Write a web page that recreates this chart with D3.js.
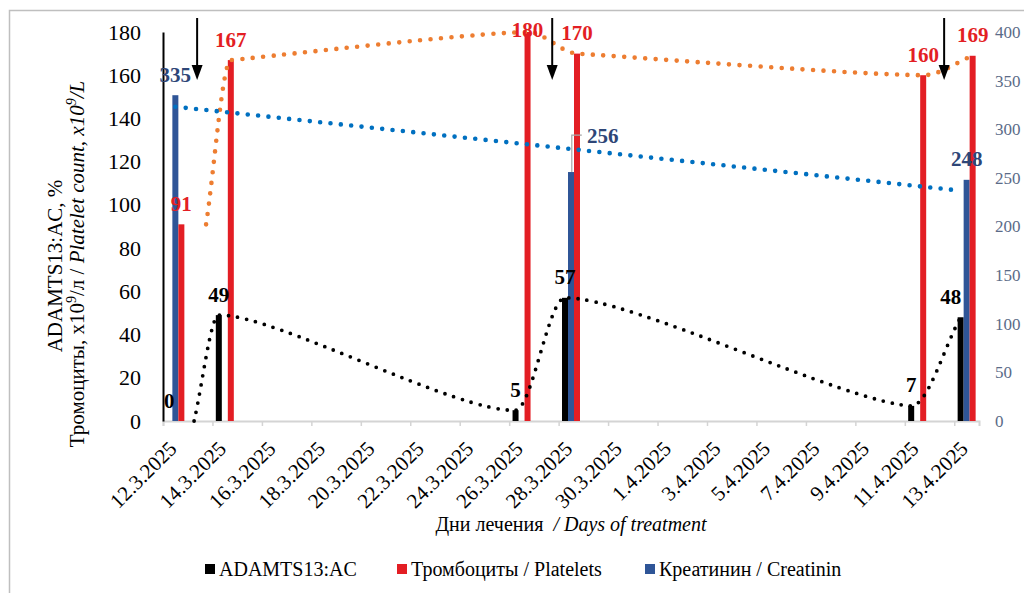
<!DOCTYPE html>
<html><head><meta charset="utf-8">
<script src="https://cdn.jsdelivr.net/npm/d3@7"></script>
<style>
body{margin:0;background:#fff}
svg{display:block;font-family:"Liberation Serif","Times New Roman",serif}
</style>
</head><body>
<svg id="chart" width="1024" height="593"></svg>
<script>
// ---------- data ----------
const tickLabels = ["12.3.2025","14.3.2025","16.3.2025","18.3.2025","20.3.2025","22.3.2025","24.3.2025","26.3.2025","28.3.2025","30.3.2025","1.4.2025","3.4.2025","5.4.2025","7.4.2025","9.4.2025","11.4.2025","13.4.2025"];
const axisStart = "12.3.2025";
const axisEnd = "14.4.2025";
const leftTicks = [0,20,40,60,80,100,120,140,160,180];
const rightTicks = [0,50,100,150,200,250,300,350,400];

const adamtsDates = ["12.3.2025","14.3.2025","26.3.2025","28.3.2025","11.4.2025","13.4.2025"];
const adamtsValues = [0,49,5,57,7,48];
const plateletDates = ["12.3.2025","14.3.2025","26.3.2025","28.3.2025","11.4.2025","13.4.2025"];
const plateletValues = [91,167,180,170,160,169];
const creatinineDates = ["12.3.2025","28.3.2025","13.4.2025"];
const creatinineValues = [335,256,248];

// smoothed dotted lines
const adamtsLineDates = ["13.3.2025","14.3.2025","26.3.2025","28.3.2025","11.4.2025","13.4.2025"];
const adamtsLineValues = [0,49,5,57,7,48];
const plateletLineDates = ["13.3.2025","14.3.2025","26.3.2025","28.3.2025","11.4.2025","13.4.2025"];
const plateletLineValues = [91,167,180,170,160,169];

// arrows (treatment events) — date and fraction of a day
const arrowDates = ["13.3.2025","27.3.2025","12.4.2025"];
const arrowDayShift = [-0.12,0.24,0.09];

const seriesNames = ["ADAMTS13:AC","Тромбоциты / Platelets","Креатинин / Creatinin"];

// ---------- helpers ----------
const DAY = 86400000;
function parse(s){const [d,m,y]=s.split(".").map(Number);return new Date(Date.UTC(y,m-1,d));}
const svg = d3.select("#chart");
const plot = {left:163,right:979,top:32,bottom:421};

const x = d3.scaleUtc().domain([parse(axisStart),parse(axisEnd)]).range([plot.left,plot.right]);
const yL = d3.scaleLinear().domain([0,180]).range([plot.bottom,plot.top]);
const yR = d3.scaleLinear().domain([0,400]).range([plot.bottom,plot.top]);
const center = (s,shift=0)=> x(new Date(parse(s).getTime()+DAY*(0.5+shift)));

const C = {black:"#000000", red:"#E31E24", blue:"#2F5597", orange:"#ED7D31", trendBlue:"#0070C0",
           redLabel:"#E31E24", blueLabel:"#2E4677", rightAxis:"#5B6B88", axisGray:"#D4D4D4"};
const bw = 6;

// Excel-like smoothing: Catmull-Rom tangents with limited control arms
function smoothPath(pts){
  const n = pts.length;
  const seg = i => (pts[i+1][1]-pts[i][1])/(pts[i+1][0]-pts[i][0]);
  const slopes = pts.map((p,i)=>{
    if(i===0) return seg(0);
    if(i===n-1) return seg(n-2);
    const s0 = seg(i-1), s1 = seg(i);
    let m = (pts[i+1][1]-pts[i-1][1])/(pts[i+1][0]-pts[i-1][0]);
    if(s0*s1>0){ const lim = Math.min(Math.abs(s0),Math.abs(s1)); if(Math.abs(m)>lim) m = Math.sign(m)*lim; }
    return m;
  });
  const p = d3.path();
  p.moveTo(pts[0][0],pts[0][1]);
  for(let i=0;i<n-1;i++){
    const a = pts[i], b = pts[i+1], dx = b[0]-a[0];
    const xa = i>0 ? (b[0]-pts[i-1][0])/6 : dx/3;
    const xb = i<n-2 ? (pts[i+2][0]-a[0])/6 : dx/3;
    const ha = Math.min(xa, dx/3), hb = Math.min(xb, dx/3);
    p.bezierCurveTo(a[0]+ha, a[1]+slopes[i]*ha, b[0]-hb, b[1]-slopes[i+1]*hb, b[0], b[1]);
  }
  return p.toString();
}

// frame
svg.append("rect").attr("x",9.5).attr("y",10.5).attr("width",1100).attr("height",700)
  .attr("fill","none").attr("stroke","#BFBFBF").attr("stroke-width",1.5);

// x axis
const xAxis = d3.axisBottom(x).tickValues(tickLabels.map(parse)).tickSize(5).tickFormat("");
const gx = svg.append("g").attr("transform",`translate(0,${plot.bottom})`).call(xAxis);
gx.select(".domain").attr("stroke",C.axisGray).attr("stroke-width",2);
gx.selectAll(".tick line").attr("stroke",C.axisGray).attr("stroke-width",1.5);
svg.append("g").selectAll("text").data(tickLabels).join("text")
  .attr("transform",d=>`translate(${x(parse(d))+15},450) rotate(-45)`)
  .attr("text-anchor","end").attr("font-size",21).attr("fill","#000").text(d=>d);

// left axis
const gl = svg.append("g").attr("transform",`translate(${plot.left},0)`)
  .call(d3.axisLeft(yL).tickValues(leftTicks).tickSize(0).tickPadding(22));
gl.select(".domain").attr("stroke","#000").attr("stroke-width",2);
gl.selectAll(".tick text").attr("font-size",22).attr("fill","#000")
  .attr("font-family",'"Liberation Serif","Times New Roman",serif');

// right axis
const gr = svg.append("g").attr("transform",`translate(${plot.right},0)`)
  .call(d3.axisRight(yR).tickValues(rightTicks).tickSize(0).tickPadding(16));
gr.select(".domain").remove();
gr.selectAll(".tick text").attr("font-size",17).attr("fill",C.rightAxis)
  .attr("font-family",'"Liberation Serif","Times New Roman",serif');

// bars
function bars(dates,values,scale,offset,color){
  svg.append("g").selectAll("rect").data(dates.map((d,i)=>({d,v:values[i]}))).join("rect")
    .attr("x",p=>center(p.d)+offset).attr("width",bw)
    .attr("y",p=>scale(p.v)).attr("height",p=>scale(0)-scale(p.v)).attr("fill",color);
}
bars(adamtsDates,adamtsValues,yL,-9,C.black);
bars(creatinineDates,creatinineValues,yR,-3,C.blue);
bars(plateletDates,plateletValues,yL,3,C.red);

// dotted smoothed lines
svg.append("path")
  .attr("d",smoothPath(plateletLineDates.map((d,i)=>[center(d)+6,yL(plateletLineValues[i])])))
  .attr("fill","none").attr("stroke",C.orange).attr("stroke-width",4.6)
  .attr("stroke-linecap","round").attr("stroke-dasharray","0 10.5");
svg.append("path")
  .attr("d",smoothPath(adamtsLineDates.map((d,i)=>[center(d)-6,yL(adamtsLineValues[i])])))
  .attr("fill","none").attr("stroke",C.black).attr("stroke-width",3.8)
  .attr("stroke-linecap","round").attr("stroke-dasharray","0 9.2");

// creatinine linear trend
const cx = creatinineDates.map(d=>(parse(d)-parse(axisStart))/DAY);
const mx = d3.mean(cx), my = d3.mean(creatinineValues);
const slope = d3.sum(cx.map((v,i)=>(v-mx)*(creatinineValues[i]-my)))/d3.sum(cx.map(v=>(v-mx)*(v-mx)));
const icpt = my - slope*mx;
const firstC = creatinineDates[0], lastC = creatinineDates[creatinineDates.length-1];
svg.append("line")
  .attr("x1",center(firstC)).attr("y1",yR(icpt+slope*cx[0]))
  .attr("x2",center(lastC)-8).attr("y2",yR(icpt+slope*(cx[cx.length-1]-8/24.73)))
  .attr("stroke",C.trendBlue).attr("stroke-width",4.6)
  .attr("stroke-linecap","round").attr("stroke-dasharray","0 10.4");

// data labels
function labels(dates,values,scale,offset,color,special){
  dates.forEach((d,i)=>{
    const v = values[i];
    const cxp = center(d)+offset;
    const top = scale(v);
    const sp = special[i]||{};
    if(sp.leader){
      svg.append("path")
        .attr("d",`M${cxp+0.8},${top}V${top-37}H${cxp+10.8}`)
        .attr("fill","none").attr("stroke","#A6A6A6").attr("stroke-width",1.2);
      svg.append("text").attr("x",cxp+16).attr("y",top-29).attr("text-anchor","start")
        .attr("font-size",21).attr("font-weight","bold").attr("fill",color).text(v);
      return;
    }
    svg.append("text").attr("x",cxp+(sp.dx||0)).attr("y",Math.max(top-13.5,37))
      .attr("text-anchor","middle").attr("font-size",21).attr("font-weight","bold")
      .attr("fill",color).text(v);
  });
}
labels(adamtsDates,adamtsValues,yL,-6,C.black,{5:{dx:-10}});
labels(creatinineDates,creatinineValues,yR,0,C.blueLabel,{1:{leader:true}});
labels(plateletDates,plateletValues,yL,6,C.redLabel,{});

// arrows
arrowDates.forEach((d,i)=>{
  const ax = center(d,arrowDayShift[i]);
  svg.append("line").attr("x1",ax).attr("y1",18).attr("x2",ax).attr("y2",68)
    .attr("stroke","#000").attr("stroke-width",2);
  svg.append("path").attr("d",`M${ax-5.5},65L${ax+5.5},65L${ax},80Z`).attr("fill","#000");
});

// left axis title
const lt = svg.append("g").attr("transform","translate(62,266) rotate(-90)");
lt.append("text").attr("text-anchor","middle").attr("font-size",21).text("ADAMTS13:AC, %");
const lt2 = svg.append("g").attr("transform","translate(84,264) rotate(-90)");
const t2 = lt2.append("text").attr("text-anchor","middle").attr("font-size",21);
t2.append("tspan").text("Тромоциты, x10");
t2.append("tspan").attr("font-size",14).attr("dy",-8).text("9");
t2.append("tspan").attr("dy",8).text("/л / ");
t2.append("tspan").attr("font-style","italic").text("Platelet count, x10");
t2.append("tspan").attr("font-style","italic").attr("font-size",14).attr("dy",-8).text("9");
t2.append("tspan").attr("font-style","italic").attr("dy",8).text("/L");

// x axis title
const xt = svg.append("text").attr("x",(plot.left+plot.right)/2).attr("y",531)
  .attr("text-anchor","middle").attr("font-size",20);
xt.append("tspan").text("Дни лечения\u00A0\u00A0");
xt.append("tspan").attr("font-style","italic").text("/ Days of treatment");

// legend
const legendX = [205,397,645];
const legendColors = [C.black,C.red,C.blue];
seriesNames.forEach((n,i)=>{
  svg.append("rect").attr("x",legendX[i]).attr("y",564).attr("width",10).attr("height",10).attr("fill",legendColors[i]);
  svg.append("text").attr("x",legendX[i]+14).attr("y",576).attr("font-size",20).attr("fill","#000").text(n);
});
</script>
</body></html>
